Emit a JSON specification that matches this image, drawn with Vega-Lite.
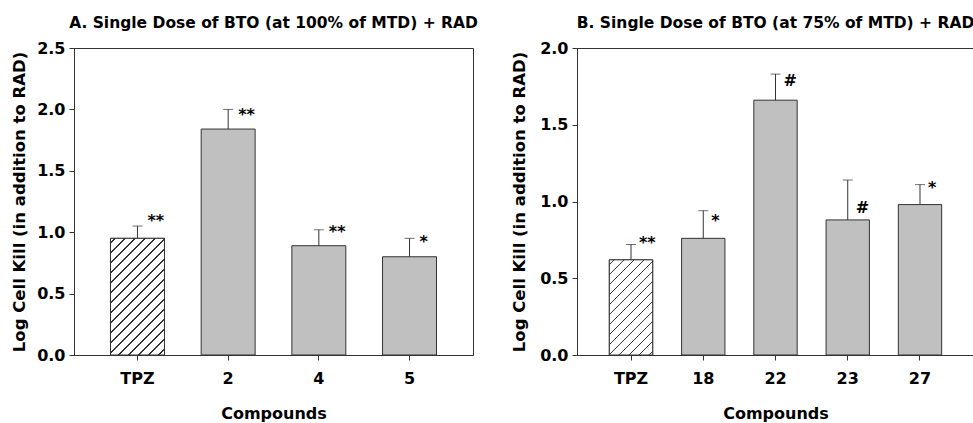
{
  "$schema": "https://vega.github.io/schema/vega-lite/v6.json",
  "padding": {"left": 11, "top": 15, "right": 0, "bottom": 0},
  "background": "white",
  "spacing": 32,
  "config": {
    "font": "DejaVu Sans",
    "view": {"stroke": "#333", "strokeWidth": 1},
    "title": {"font": "DejaVu Sans", "fontSize": 15.5, "fontWeight": "bold", "color": "#000", "frame": "group", "anchor": "middle", "offset": 9},
    "axis": {"labelFont": "DejaVu Sans", "titleFont": "DejaVu Sans", "labelFontWeight": "bold", "titleFontWeight": "bold", "labelColor": "#000", "titleColor": "#000", "domainColor": "#333", "tickColor": "#333", "tickSize": 5, "grid": false, "labelFontSize": 16, "titleFontSize": 16},
    "axisX": {"labelAngle": 0, "labelPadding": 10, "titlePadding": 19},
    "axisY": {"labelPadding": 4, "titlePadding": 12, "titleFontSize": 16.5}
  },
  "hconcat": [
    {
      "width": 399,
      "height": 307,
      "title": {"text": "A. Single Dose of BTO (at 100% of MTD) + RAD"},
      "data": {"values": [
        {"compound": "TPZ", "value": 0.95, "upper": 1.05, "sig": "**", "labelY": 1.050},
        {"compound": "2", "value": 1.84, "upper": 2.0, "sig": "**", "labelY": 1.914},
        {"compound": "4", "value": 0.89, "upper": 1.02, "sig": "**", "labelY": 0.961},
        {"compound": "5", "value": 0.80, "upper": 0.95, "sig": "*", "labelY": 0.879}
      ]},
      "encoding": {
        "x": {"field": "compound", "type": "nominal", "title": "Compounds", "scale": {"domain": ["TPZ", "2", "4", "5"], "paddingInner": 0.405, "paddingOuter": 0.4025}}
      },
      "layer": [
        {
          "mark": {"type": "bar", "fill": "#c0c0c0", "stroke": "#333", "strokeWidth": 1},
          "encoding": {"y": {"field": "value", "type": "quantitative", "title": "Log Cell Kill (in addition to RAD)", "scale": {"domain": [0, 2.5], "nice": false}, "axis": {"values": [0, 0.5, 1, 1.5, 2, 2.5], "format": ".1f", "titlePadding": 9}}}
        },
        {
          "transform": [{"filter": "datum.compound === 'TPZ'"}],
          "mark": {"type": "bar", "stroke": "#333", "strokeWidth": 1, "fill": {
            "gradient": "linear", "x1": 0, "y1": 0, "x2": 0.5572, "y2": 1.2049,
            "stops": [
              {"offset": 0, "color": "#ffffff"},
              {"offset": 0.0234, "color": "#ffffff"}, {"offset": 0.0234, "color": "#333333"}, {"offset": 0.0322, "color": "#333333"}, {"offset": 0.0322, "color": "#ffffff"},
              {"offset": 0.0821, "color": "#ffffff"}, {"offset": 0.0821, "color": "#333333"}, {"offset": 0.0909, "color": "#333333"}, {"offset": 0.0909, "color": "#ffffff"},
              {"offset": 0.1407, "color": "#ffffff"}, {"offset": 0.1407, "color": "#333333"}, {"offset": 0.1495, "color": "#333333"}, {"offset": 0.1495, "color": "#ffffff"},
              {"offset": 0.1993, "color": "#ffffff"}, {"offset": 0.1993, "color": "#333333"}, {"offset": 0.2081, "color": "#333333"}, {"offset": 0.2081, "color": "#ffffff"},
              {"offset": 0.2579, "color": "#ffffff"}, {"offset": 0.2579, "color": "#333333"}, {"offset": 0.2667, "color": "#333333"}, {"offset": 0.2667, "color": "#ffffff"},
              {"offset": 0.3165, "color": "#ffffff"}, {"offset": 0.3165, "color": "#333333"}, {"offset": 0.3253, "color": "#333333"}, {"offset": 0.3253, "color": "#ffffff"},
              {"offset": 0.3751, "color": "#ffffff"}, {"offset": 0.3751, "color": "#333333"}, {"offset": 0.3839, "color": "#333333"}, {"offset": 0.3839, "color": "#ffffff"},
              {"offset": 0.4338, "color": "#ffffff"}, {"offset": 0.4338, "color": "#333333"}, {"offset": 0.4426, "color": "#333333"}, {"offset": 0.4426, "color": "#ffffff"},
              {"offset": 0.4924, "color": "#ffffff"}, {"offset": 0.4924, "color": "#333333"}, {"offset": 0.5012, "color": "#333333"}, {"offset": 0.5012, "color": "#ffffff"},
              {"offset": 0.5510, "color": "#ffffff"}, {"offset": 0.5510, "color": "#333333"}, {"offset": 0.5598, "color": "#333333"}, {"offset": 0.5598, "color": "#ffffff"},
              {"offset": 0.6096, "color": "#ffffff"}, {"offset": 0.6096, "color": "#333333"}, {"offset": 0.6184, "color": "#333333"}, {"offset": 0.6184, "color": "#ffffff"},
              {"offset": 0.6682, "color": "#ffffff"}, {"offset": 0.6682, "color": "#333333"}, {"offset": 0.6770, "color": "#333333"}, {"offset": 0.6770, "color": "#ffffff"},
              {"offset": 0.7268, "color": "#ffffff"}, {"offset": 0.7268, "color": "#333333"}, {"offset": 0.7356, "color": "#333333"}, {"offset": 0.7356, "color": "#ffffff"},
              {"offset": 0.7855, "color": "#ffffff"}, {"offset": 0.7855, "color": "#333333"}, {"offset": 0.7943, "color": "#333333"}, {"offset": 0.7943, "color": "#ffffff"},
              {"offset": 0.8441, "color": "#ffffff"}, {"offset": 0.8441, "color": "#333333"}, {"offset": 0.8529, "color": "#333333"}, {"offset": 0.8529, "color": "#ffffff"},
              {"offset": 0.9027, "color": "#ffffff"}, {"offset": 0.9027, "color": "#333333"}, {"offset": 0.9115, "color": "#333333"}, {"offset": 0.9115, "color": "#ffffff"},
              {"offset": 0.9613, "color": "#ffffff"}, {"offset": 0.9613, "color": "#333333"}, {"offset": 0.9701, "color": "#333333"}, {"offset": 0.9701, "color": "#ffffff"},
              {"offset": 1, "color": "#ffffff"}
            ]}},
          "encoding": {"y": {"field": "value", "type": "quantitative", "title": "Log Cell Kill (in addition to RAD)"}}
        },
        {
          "mark": {"type": "rule", "color": "#333", "strokeWidth": 1},
          "encoding": {"y": {"field": "value", "type": "quantitative", "title": "Log Cell Kill (in addition to RAD)"}, "y2": {"field": "upper"}}
        },
        {
          "mark": {"type": "tick", "color": "#333", "size": 10, "thickness": 1},
          "encoding": {"y": {"field": "upper", "type": "quantitative", "title": "Log Cell Kill (in addition to RAD)"}}
        },
        {
          "mark": {"type": "text", "align": "left", "baseline": "alphabetic", "dx": 10, "fontSize": 16, "fontWeight": "bold", "font": "DejaVu Sans", "color": "#000"},
          "encoding": {"y": {"field": "labelY", "type": "quantitative", "title": "Log Cell Kill (in addition to RAD)"}, "text": {"field": "sig"}}
        }
      ]
    },
    {
      "width": 397,
      "height": 307,
      "title": {"text": "B. Single Dose of BTO (at 75% of MTD) + RAD"},
      "data": {"values": [
        {"compound": "TPZ", "value": 0.62, "upper": 0.72, "sig": "**", "labelY": 0.700},
        {"compound": "18", "value": 0.76, "upper": 0.94, "sig": "*", "labelY": 0.838},
        {"compound": "22", "value": 1.66, "upper": 1.83, "sig": "#", "labelY": 1.750},
        {"compound": "23", "value": 0.88, "upper": 1.14, "sig": "#", "labelY": 0.925},
        {"compound": "27", "value": 0.98, "upper": 1.11, "sig": "*", "labelY": 1.056}
      ]},
      "encoding": {
        "x": {"field": "compound", "type": "nominal", "title": "Compounds", "scale": {"domain": ["TPZ", "18", "22", "23", "27"], "paddingInner": 0.4, "paddingOuter": 0.4475}}
      },
      "layer": [
        {
          "mark": {"type": "bar", "fill": "#c0c0c0", "stroke": "#333", "strokeWidth": 1},
          "encoding": {"y": {"field": "value", "type": "quantitative", "title": "Log Cell Kill (in addition to RAD)", "scale": {"domain": [0, 2.0], "nice": false}, "axis": {"values": [0, 0.5, 1, 1.5, 2], "format": ".1f"}}}
        },
        {
          "transform": [{"filter": "datum.compound === 'TPZ'"}],
          "mark": {"type": "bar", "stroke": "#333", "strokeWidth": 1, "fill": {
            "gradient": "linear", "x1": 0, "y1": 0, "x2": 0.5491, "y2": 1.2055,
            "stops": [
              {"offset": 0, "color": "#ffffff"},
              {"offset": 0.0289, "color": "#ffffff"}, {"offset": 0.0289, "color": "#333333"}, {"offset": 0.0397, "color": "#333333"}, {"offset": 0.0397, "color": "#ffffff"},
              {"offset": 0.1011, "color": "#ffffff"}, {"offset": 0.1011, "color": "#333333"}, {"offset": 0.1119, "color": "#333333"}, {"offset": 0.1119, "color": "#ffffff"},
              {"offset": 0.1733, "color": "#ffffff"}, {"offset": 0.1733, "color": "#333333"}, {"offset": 0.1841, "color": "#333333"}, {"offset": 0.1841, "color": "#ffffff"},
              {"offset": 0.2455, "color": "#ffffff"}, {"offset": 0.2455, "color": "#333333"}, {"offset": 0.2563, "color": "#333333"}, {"offset": 0.2563, "color": "#ffffff"},
              {"offset": 0.3177, "color": "#ffffff"}, {"offset": 0.3177, "color": "#333333"}, {"offset": 0.3285, "color": "#333333"}, {"offset": 0.3285, "color": "#ffffff"},
              {"offset": 0.3899, "color": "#ffffff"}, {"offset": 0.3899, "color": "#333333"}, {"offset": 0.4007, "color": "#333333"}, {"offset": 0.4007, "color": "#ffffff"},
              {"offset": 0.4621, "color": "#ffffff"}, {"offset": 0.4621, "color": "#333333"}, {"offset": 0.4729, "color": "#333333"}, {"offset": 0.4729, "color": "#ffffff"},
              {"offset": 0.5343, "color": "#ffffff"}, {"offset": 0.5343, "color": "#333333"}, {"offset": 0.5451, "color": "#333333"}, {"offset": 0.5451, "color": "#ffffff"},
              {"offset": 0.6065, "color": "#ffffff"}, {"offset": 0.6065, "color": "#333333"}, {"offset": 0.6173, "color": "#333333"}, {"offset": 0.6173, "color": "#ffffff"},
              {"offset": 0.6787, "color": "#ffffff"}, {"offset": 0.6787, "color": "#333333"}, {"offset": 0.6895, "color": "#333333"}, {"offset": 0.6895, "color": "#ffffff"},
              {"offset": 0.7509, "color": "#ffffff"}, {"offset": 0.7509, "color": "#333333"}, {"offset": 0.7617, "color": "#333333"}, {"offset": 0.7617, "color": "#ffffff"},
              {"offset": 0.8231, "color": "#ffffff"}, {"offset": 0.8231, "color": "#333333"}, {"offset": 0.8339, "color": "#333333"}, {"offset": 0.8339, "color": "#ffffff"},
              {"offset": 0.8953, "color": "#ffffff"}, {"offset": 0.8953, "color": "#333333"}, {"offset": 0.9061, "color": "#333333"}, {"offset": 0.9061, "color": "#ffffff"},
              {"offset": 0.9675, "color": "#ffffff"}, {"offset": 0.9675, "color": "#333333"}, {"offset": 0.9783, "color": "#333333"}, {"offset": 0.9783, "color": "#ffffff"},
              {"offset": 1, "color": "#ffffff"}
            ]}},
          "encoding": {"y": {"field": "value", "type": "quantitative", "title": "Log Cell Kill (in addition to RAD)"}}
        },
        {
          "mark": {"type": "rule", "color": "#333", "strokeWidth": 1},
          "encoding": {"y": {"field": "value", "type": "quantitative", "title": "Log Cell Kill (in addition to RAD)"}, "y2": {"field": "upper"}}
        },
        {
          "mark": {"type": "tick", "color": "#333", "size": 10, "thickness": 1},
          "encoding": {"y": {"field": "upper", "type": "quantitative", "title": "Log Cell Kill (in addition to RAD)"}}
        },
        {
          "mark": {"type": "text", "align": "left", "baseline": "alphabetic", "dx": 8, "fontSize": 16, "fontWeight": "bold", "font": "DejaVu Sans", "color": "#000"},
          "encoding": {"y": {"field": "labelY", "type": "quantitative", "title": "Log Cell Kill (in addition to RAD)"}, "text": {"field": "sig"}}
        }
      ]
    }
  ]
}
